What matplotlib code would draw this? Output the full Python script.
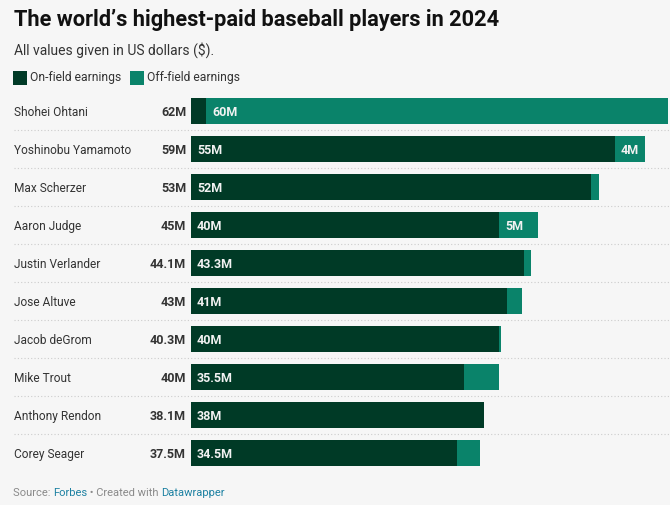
import matplotlib
matplotlib.use("Agg")
import matplotlib.pyplot as plt
import matplotlib.transforms as mtransforms
from matplotlib.patches import Rectangle

players = ["Shohei Ohtani", "Yoshinobu Yamamoto", "Max Scherzer", "Aaron Judge",
           "Justin Verlander", "Jose Altuve", "Jacob deGrom", "Mike Trout",
           "Anthony Rendon", "Corey Seager"]
on_field = [2, 55, 52, 40, 43.3, 41, 40, 35.5, 38, 34.5]
off_field = [60, 4, 1, 5, 0.8, 2, 0.3, 4.5, 0.1, 3]
total_labels = ["62M", "59M", "53M", "45M", "44.1M", "43M", "40.3M", "40M", "38.1M", "37.5M"]
on_labels = ["", "55M", "52M", "40M", "43.3M", "41M", "40M", "35.5M", "38M", "34.5M"]
off_labels = ["60M", "4M", "", "5M", "", "", "", "", "", ""]

DARK = "#003a26"
TEAL = "#0a836a"
BG = "#f6f6f6"
TXT = "#333333"

plt.rcParams['font.family'] = ['Roboto', 'DejaVu Sans']

W, H = 670, 505
fig = plt.figure(figsize=(W / 100, H / 100), dpi=100, facecolor=BG)

def fx(px):
    return px / W

def fy(py):
    return 1 - py / H

# axes: x from 191 to 670 px, rows centered at 111 + 38*i
ax = fig.add_axes([fx(191), fy(472), fx(670) - fx(191), (472 - 92) / H])
ax.set_facecolor(BG)
ax.set_xlim(0, 62.2)
ax.set_ylim(len(players) - 0.5, -0.5)
ax.axis('off')

ys = list(range(len(players)))
ax.barh(ys, on_field, height=0.71, color=DARK, linewidth=0)
ax.barh(ys, off_field, left=on_field, height=0.71, color=TEAL, linewidth=0)

blend = mtransforms.blended_transform_factory(fig.transFigure, ax.transData)
pad = mtransforms.ScaledTranslation(6 / 100, 0, fig.dpi_scale_trans)

for i, name in enumerate(players):
    fig.text(fx(14), i, name, transform=blend, ha='left', va='center_baseline',
             fontsize=8.6, color=TXT)
    fig.text(fx(186), i, total_labels[i], transform=blend, ha='right', va='center_baseline',
             fontsize=9, color=TXT, fontweight='bold')
    if on_labels[i]:
        ax.text(0, i, on_labels[i], transform=ax.transData + pad, ha='left',
                va='center_baseline', fontsize=9, color='#f2f2f2', fontweight='bold')
    if off_labels[i]:
        ax.text(on_field[i], i, off_labels[i], transform=ax.transData + pad,
                ha='left', va='center_baseline', fontsize=9, color='#f2f2f2', fontweight='bold')

# dotted separators
for i in range(len(players) - 1):
    fig.add_artist(plt.Line2D([fx(14), 1.0], [i + 0.5, i + 0.5], transform=blend,
                              color='#cccccc', linewidth=0.8, linestyle=(0, (1, 2))))

# title / subtitle
fig.text(fx(14), fy(26), "The world’s highest-paid baseball players in 2024",
         fontsize=15.7, fontweight='bold', color='#111111', va='baseline', ha='left')
fig.text(fx(14), fy(55), "All values given in US dollars ($).",
         fontsize=10, color=TXT, va='baseline', ha='left')

# legend
legend_items = [("On-field earnings", DARK, 13), ("Off-field earnings", TEAL, 130)]
for label, col, x0 in legend_items:
    fig.add_artist(Rectangle((fx(x0), fy(85)), 14 / W, 14 / H, transform=fig.transFigure,
                             facecolor=col, edgecolor='none'))
    fig.text(fx(x0 + 17), fy(81.5), label, fontsize=8.7, color=TXT, va='baseline', ha='left')

# source line
src_parts = [("Source: ", "#8a8a8a"), ("Forbes", "#1d81a2"), (" • Created with ", "#8a8a8a"),
             ("Datawrapper", "#1d81a2")]
fig.canvas.draw()
renderer = fig.canvas.get_renderer()
xcur = fx(13)
for txt, col in src_parts:
    t = fig.text(xcur, fy(496), txt, fontsize=8, color=col, va='baseline', ha='left')
    bb = t.get_window_extent(renderer=renderer)
    xcur += bb.width / W

fig.savefig("out.png", dpi=100, facecolor=BG)
